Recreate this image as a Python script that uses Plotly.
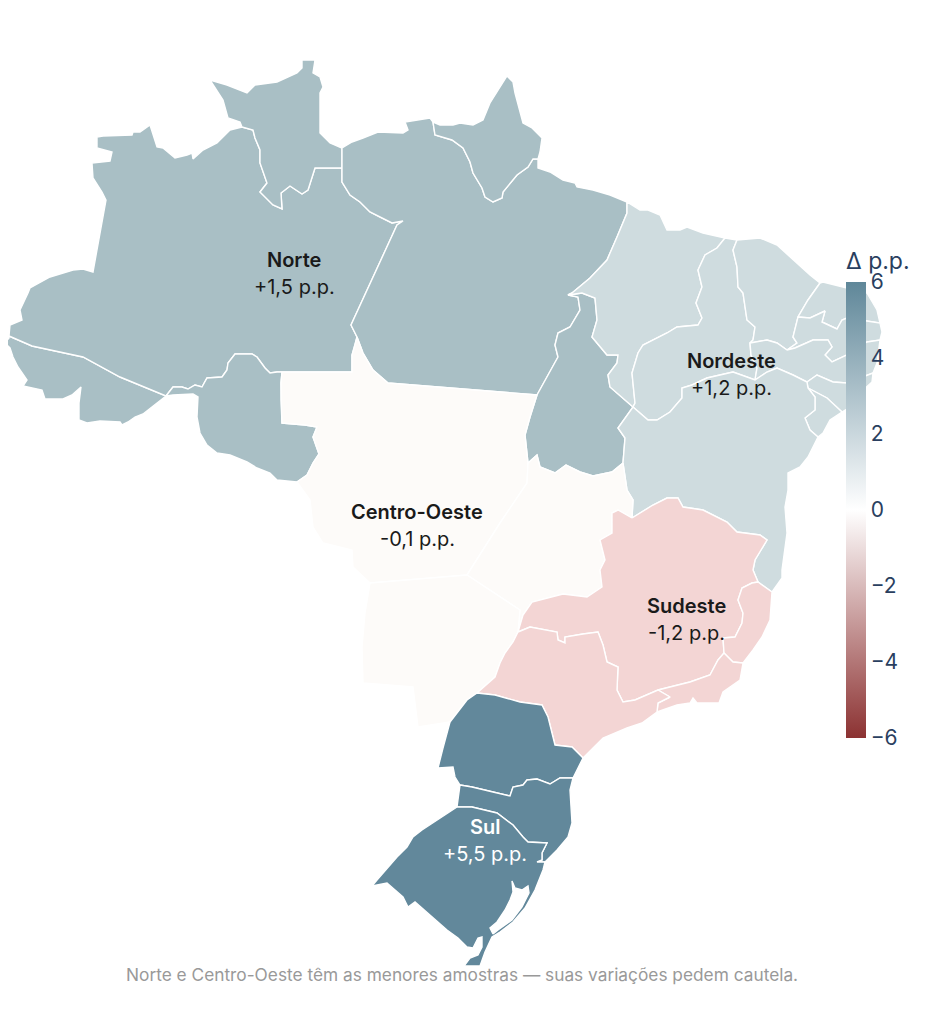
import plotly.graph_objects as go

# ---------- data: regions ----------
REGIONS = ["Norte", "Nordeste", "Centro-Oeste", "Sudeste", "Sul"]
REGION_VALUES = [1.5, 1.2, -0.1, -1.2, 5.5]
REGION_LABELS = ["+1,5 p.p.", "+1,2 p.p.", "-0,1 p.p.", "-1,2 p.p.", "+5,5 p.p."]
TICKS = [-6, -4, -2, 0, 2, 4, 6]
NOTE = "Norte e Centro-Oeste têm as menores amostras — suas variações pedem cautela."

# ---------- data: state borders traced on the sheet (shared chains) ----------
AC_AM = [(9,336),(32,346),(83,357),(120,377),(166,396)]
AC_S = [(166,396),(157,403),(143,414),(135,417),(128,422),(122,425),(120,422),(100,421),(87,423),(79,420),(79,403),(81,387),(72,395),(63,399),(45,399),(42,390),(23,386),(27,380),(18,367),(13,357),(10,348),(5,343),(9,338),(9,336)]
AM_NW = [(9,336),(10,325),(22,320),(20,310),(28,293),(30,288),(50,277),(73,270),(83,269),(93,272),(106,200),(102,192),(93,178),(92,163),(110,161),(112,152),(97,148),(97,137),(103,136),(132,135),(133,132),(140,132),(150,125),(157,147),(163,148),(175,158),(187,155),(192,153),(193,159),(203,150),(217,143),(225,135),(230,130),(242,127)]
AM_RR = [(242,127),(253,130),(255,138),(260,150),(260,163),(267,183),(260,192),(273,205),(282,209),(281,193),(290,186),(302,194),(308,190),(315,168),(342,168)]
AM_PA = [(342,168),(342,182),(350,195),(360,202),(370,212),(380,217),(392,223),(403,221),(397,225),(351,325),(357,337)]
AM_MT = [(357,337),(355,345),(352,355),(352,372),(282,372)]
AM_RO = [(282,372),(277,372),(270,373),(265,368),(257,357),(252,354),(235,354),(228,363),(227,370),(222,377),(207,378),(202,387),(195,385),(188,389),(182,387),(173,387),(166,396)]
RO_W = [(166,396),(173,395),(193,394),(198,397),(197,417),(200,433),(207,445),(217,453),(230,455),(247,462),(257,468),(270,473),(277,480),(297,482)]
RO_MT = [(297,482),(307,475),(313,463),(319,454),(313,437),(317,427),(305,425),(282,423),(281,400),(281,383),(282,372)]
RR_OUT = [(242,127),(240,122),(228,118),(223,100),(210,80),(227,85),(247,93),(255,85),(277,82),(297,73),(302,68),(302,60),(315,60),(313,73),(320,77),(323,87),(320,93),(320,133),(330,143),(342,148)]
RR_PA = [(342,148),(342,168)]
PA_N = [(342,148),(352,142),(363,138),(378,132),(403,133),(408,130),(405,122),(420,120),(430,118),(433,122)]
AP_PA = [(433,122),(435,135),(452,140),(463,148),(470,162),(473,173),(482,188),(485,197),(493,202),(502,198),(503,192),(517,175),(528,167),(533,159),(538,159)]
AP_OUT = [(433,122),(440,125),(453,125),(460,123),(473,125),(483,120),(490,103),(500,87),(507,76),(513,82),(515,93),(523,123),(532,128),(542,138),(540,152),(538,159)]
PA_COAST = [(538,159),(538,168),(550,172),(563,180),(575,183),(577,187),(593,190),(610,195),(627,202)]
PA_MA = [(627,202),(627,213),(617,237),(607,260),(590,278),(572,293),(568,295)]
PA_TO = [(568,295),(578,297),(580,310),(570,327),(558,333),(555,345),(558,357),(547,377),(537,395)]
PA_MT = [(537,395),(388,383),(373,370),(363,353),(357,337)]
MT_W = [(297,482),(310,500),(313,527),(323,543),(352,550),(353,567),(370,583)]
MT_MS = [(370,583),(467,575)]
MT_GO = [(467,575),(500,523),(527,483),(528,463)]
MT_TO = [(528,463),(525,435),(530,417),(537,395)]
MA_TO = [(568,295),(582,293),(595,298),(597,320),(592,337),(607,355),(618,355),(617,363),(608,375),(610,387),(633,407)]
TO_BA = [(633,407),(618,428),(625,438),(623,463)]
TO_GO = [(623,463),(612,472),(593,476),(580,472),(566,465),(555,473),(540,467),(537,455),(528,463)]
MA_COAST = [(627,202),(640,210),(648,210),(660,215),(667,230),(680,230),(687,227),(703,233),(725,238)]
MA_PI = [(725,238),(717,248),(705,255),(698,270),(702,287),(696,303),(702,318),(698,325),(677,327),(667,333),(643,345),(638,353),(632,373),(635,403),(633,407)]
PI_COAST = [(725,238),(737,240)]
PI_CE = [(737,240),(733,250),(737,267),(738,287),(743,293),(747,320),(755,327),(753,340),(750,343)]
PI_PE = [(750,343),(751,355),(757,368),(755,380)]
PI_BA = [(755,380),(747,377),(733,372),(720,375),(707,378),(692,385),(682,388),(682,398),(670,412),(657,420),(648,420),(633,407)]
CE_COAST = [(737,240),(760,238),(777,245),(793,260),(810,275),(820,283)]
CE_RN = [(820,283),(808,300),(798,317)]
CE_PB = [(798,317),(793,337),(797,343),(787,350)]
CE_PE = [(787,350),(777,343),(767,340),(750,343)]
RN_COAST = [(820,283),(823,282),(847,288),(867,293),(877,310),(880,323)]
RN_PB = [(880,323),(867,321),(847,318),(842,320),(837,329),(822,322),(825,311),(810,318),(798,317)]
PB_COAST = [(880,323),(882,332),(880,340)]
PB_PE = [(880,340),(867,342),(847,355),(832,362),(825,355),(832,347),(828,340),(813,340),(795,348),(787,350)]
PE_COAST = [(880,340),(877,363),(873,373)]
PE_AL = [(873,373),(847,383),(833,382),(817,375),(807,382)]
PE_BA = [(807,382),(793,375),(777,368),(767,372),(755,380)]
AL_COAST = [(873,373),(872,382),(860,393),(850,407),(842,412)]
AL_SE = [(842,412),(827,398),(808,388)]
AL_BA = [(808,388),(807,382)]
SE_COAST = [(842,412),(830,420),(823,433),(818,437)]
SE_BA = [(818,437),(810,430),(805,418),(815,410),(815,397),(808,388)]
BA_COAST = [(818,437),(808,457),(800,467),(788,473),(788,490),(785,507),(787,533),(782,570),(782,578),(772,592)]
BA_ES = [(772,592),(758,582)]
BA_MG = [(758,582),(753,570),(755,560),(767,540),(760,535),(737,532),(727,522),(703,510),(683,507),(678,498),(667,498),(653,505),(632,518)]
BA_GO = [(632,518),(633,500),(627,490),(623,463)]
ES_COAST = [(772,592),(770,620),(762,637),(753,650),(743,663)]
ES_RJ = [(743,663),(733,662),(724,653)]
ES_MG = [(724,653),(723,638),(735,637),(742,623),(743,613),(738,600),(742,588),(752,583),(758,582)]
RJ_COAST = [(743,663),(740,680),(723,692),(719,703),(697,703),(693,698),(690,703),(677,705),(657,712)]
RJ_SP = [(657,712),(658,703),(670,697),(658,690)]
RJ_MG = [(658,690),(690,682),(710,675),(718,660),(724,653)]
MG_SP = [(658,690),(635,700),(623,702),(617,690),(618,667),(607,662),(603,645),(598,632),(583,634),(565,637),(565,643),(558,640),(557,632),(530,627),(518,632)]
MG_GO = [(518,632),(523,615),(532,602),(563,594),(587,597),(602,587),(600,570),(605,560),(600,540),(612,533),(612,513),(618,510),(632,518)]
SP_COAST = [(657,712),(642,723),(627,728),(603,738),(583,758)]
SP_PR = [(583,758),(572,747),(555,745),(548,717),(542,705),(520,702),(495,695),(477,693)]
SP_MS = [(477,693),(495,677),(500,663),(505,653),(513,642),(518,632)]
MS_GO = [(518,632),(520,610),(467,575)]
MS_PR = [(477,693),(467,700),(450,722)]
MS_W = [(450,722),(418,727),(413,687),(363,683),(362,647),(365,613),(370,583)]
PR_COAST = [(583,758),(573,778)]
PR_SC = [(573,778),(560,778),(550,784),(537,779),(527,780),(523,785),(513,787),(510,796),(493,792),(472,787),(460,785)]
PR_W = [(460,785),(455,777),(453,767),(438,768),(443,748),(450,722)]
SC_COAST = [(573,778),(570,790),(572,823),(568,837),(557,850),(545,862)]
SC_RS = [(545,862),(537,862),(542,860),(542,853),(547,843),(528,842),(523,837),(513,825),(497,813),(472,807),(457,807)]
SC_W = [(457,807),(460,785)]
RS_OUT = [(545,862),(543,870),(535,890),(525,908),(513,922),(500,932),(492,937),(485,952),(480,966),(464,966),(470,958),(478,955),(482,947),(482,937),(478,938),(473,948),(467,947),(458,938),(447,930),(430,915),(415,902),(408,907),(403,897),(387,883),(372,886),(377,880),(390,865),(397,857),(407,847),(413,837),(422,830),(440,818),(447,813),(457,807)]
PATOS_LAGOON = [(493,934),(498,930),(512,920),(522,907),(529,893),(528,886),(522,890),(515,888),(512,881),(513,892),(510,900),(505,910),(497,922),(490,928)]


def r(chain):
    return chain[::-1]


STATES = {
    "AC": ("Norte", [AC_AM, AC_S]),
    "AM": ("Norte", [AM_NW, AM_RR, AM_PA, AM_MT, AM_RO, r(AC_AM)]),
    "RR": ("Norte", [RR_OUT, RR_PA, r(AM_RR)]),
    "PA": ("Norte", [PA_N, AP_PA, PA_COAST, PA_MA, PA_TO, PA_MT, r(AM_PA), r(RR_PA)]),
    "AP": ("Norte", [AP_OUT, r(AP_PA)]),
    "RO": ("Norte", [AM_RO, RO_W, RO_MT]),
    "TO": ("Norte", [MA_TO, TO_BA, TO_GO, MT_TO, r(PA_TO)]),
    "MA": ("Nordeste", [MA_COAST, MA_PI, r(MA_TO), r(PA_MA)]),
    "PI": ("Nordeste", [PI_COAST, PI_CE, PI_PE, PI_BA, r(MA_PI)]),
    "CE": ("Nordeste", [CE_COAST, CE_RN, CE_PB, CE_PE, r(PI_CE)]),
    "RN": ("Nordeste", [RN_COAST, RN_PB, r(CE_RN)]),
    "PB": ("Nordeste", [r(RN_PB), PB_COAST, PB_PE, r(CE_PB)]),
    "PE": ("Nordeste", [r(PB_PE), PE_COAST, PE_AL, PE_BA, r(PI_PE), r(CE_PE)]),
    "AL": ("Nordeste", [r(PE_AL), AL_COAST, AL_SE, AL_BA]),
    "SE": ("Nordeste", [r(AL_SE), SE_COAST, SE_BA]),
    "BA": ("Nordeste", [BA_COAST, BA_ES, BA_MG, BA_GO, r(TO_BA), r(PI_BA), r(PE_BA), r(AL_BA), r(SE_BA)]),
    "MT": ("Centro-Oeste", [r(AM_MT), r(PA_MT), r(MT_TO), r(MT_GO), r(MT_MS), r(MT_W), RO_MT]),
    "GO": ("Centro-Oeste", [r(TO_GO), r(BA_GO), r(MG_GO), MS_GO, MT_GO]),
    "MS": ("Centro-Oeste", [MT_MS, r(MS_GO), r(SP_MS), MS_PR, MS_W]),
    "MG": ("Sudeste", [r(BA_MG), r(ES_MG), r(RJ_MG), MG_SP, MG_GO]),
    "ES": ("Sudeste", [ES_COAST, ES_RJ, ES_MG, r(BA_ES)]),
    "RJ": ("Sudeste", [RJ_COAST, RJ_SP, RJ_MG, r(ES_RJ)]),
    "SP": ("Sudeste", [r(MG_SP), r(RJ_SP), SP_COAST, SP_PR, SP_MS]),
    "PR": ("Sul", [r(MS_PR), r(SP_PR), PR_COAST, PR_SC, PR_W]),
    "SC": ("Sul", [r(PR_SC), SC_COAST, SC_RS, SC_W]),
    "RS": ("Sul", [r(SC_RS), RS_OUT]),
}
HOLES = {"RS": [PATOS_LAGOON]}

# ---------- style and layout ----------
REGION_FILL = {"Norte": "#a9bfc5", "Nordeste": "#cfdcdf", "Centro-Oeste": "#fdfbf9",
               "Sudeste": "#f3d5d4", "Sul": "#62889b"}
LABEL_AT = {"Norte": (294, 260), "Nordeste": (731, 361), "Centro-Oeste": (417, 512),
            "Sudeste": (686, 606), "Sul": (485, 827)}
PAGE_W, PAGE_H = 927, 1024
BODY_MARGIN = 8
W, H = PAGE_W - BODY_MARGIN, PAGE_H - BODY_MARGIN
SCALE = [[0, "#8c3232"], [0.5, "#ffffff"], [1, "#5f8799"]]
ZMIN, ZMAX = -6, 6


def fx(x):
    return (x - BODY_MARGIN) / W


def fy(y):
    return 1 - (y - BODY_MARGIN) / H


def ring_xy(chains):
    pts = []
    for ch in chains:
        for p in ch:
            if not pts or pts[-1] != p:
                pts.append(p)
    if pts[0] != pts[-1]:
        pts.append(pts[0])
    return pts


fig = go.Figure()
for code, (region, chains) in STATES.items():
    pts = ring_xy(chains)
    xs = [p[0] for p in pts]
    ys = [p[1] for p in pts]
    for hole in HOLES.get(code, []):
        hp = ring_xy([hole])
        xs += [None] + [p[0] for p in hp]
        ys += [None] + [p[1] for p in hp]
    fig.add_trace(go.Scatter(
        x=xs, y=ys, mode="lines", fill="toself", name=code,
        fillcolor=REGION_FILL[region],
        line=dict(color="#ffffff", width=1.4),
        showlegend=False, hoveron="fills", text=f"{code}: {region}", hoverinfo="text",
    ))

# colour bar, carried by the regions' values
fig.add_trace(go.Scatter(
    x=[LABEL_AT[n][0] for n in REGIONS], y=[LABEL_AT[n][1] for n in REGIONS], mode="markers",
    marker=dict(size=1, opacity=0, color=REGION_VALUES, cmin=ZMIN, cmax=ZMAX, colorscale=SCALE, showscale=True,
                colorbar=dict(
                    title=dict(text="Δ p.p.", side="top", font=dict(size=23, color="#2a3f5f", family="Inter")),
                    tickvals=TICKS,
                    tickfont=dict(size=21, color="#2a3f5f", family="Inter"),
                    thickness=20, len=456 + 33, lenmode="pixels",
                    x=fx(846), xanchor="left", xpad=0,
                    y=fy(738 - 456 - 33), yanchor="top", ypad=0,
                    outlinewidth=0, ticks="", ticklen=0,
                )),
    showlegend=False, hoverinfo="skip",
))

annotations = []
for name, label in zip(REGIONS, REGION_LABELS):
    x, y = LABEL_AT[name]
    color = "#ffffff" if name == "Sul" else "#1a1a1a"
    annotations.append(dict(text=name, x=fx(x), y=fy(y), xref="paper", yref="paper", xanchor="center", yanchor="middle",
                            showarrow=False, font=dict(family="Inter", size=20, color=color, weight=600)))
    annotations.append(dict(text=label, x=fx(x), y=fy(y + 27), xref="paper", yref="paper", xanchor="center", yanchor="middle",
                            showarrow=False, font=dict(family="Inter", size=20, color=color)))
annotations.append(dict(text=NOTE, x=fx(462), y=fy(974), xref="paper", yref="paper", xanchor="center", yanchor="middle",
                        showarrow=False, font=dict(family="Inter", size=17.3, color="#999999")))

fig.update_xaxes(range=[BODY_MARGIN, PAGE_W], visible=False, domain=[0, 1], fixedrange=True)
fig.update_yaxes(range=[PAGE_H, BODY_MARGIN], visible=False, domain=[0, 1], fixedrange=True)
fig.update_layout(
    width=W, height=H, autosize=False,
    margin=dict(l=0, r=0, t=0, b=0),
    paper_bgcolor="#ffffff", plot_bgcolor="#ffffff",
    annotations=annotations,
    font=dict(family="Inter"),
)

fig.write_html("out.html")
